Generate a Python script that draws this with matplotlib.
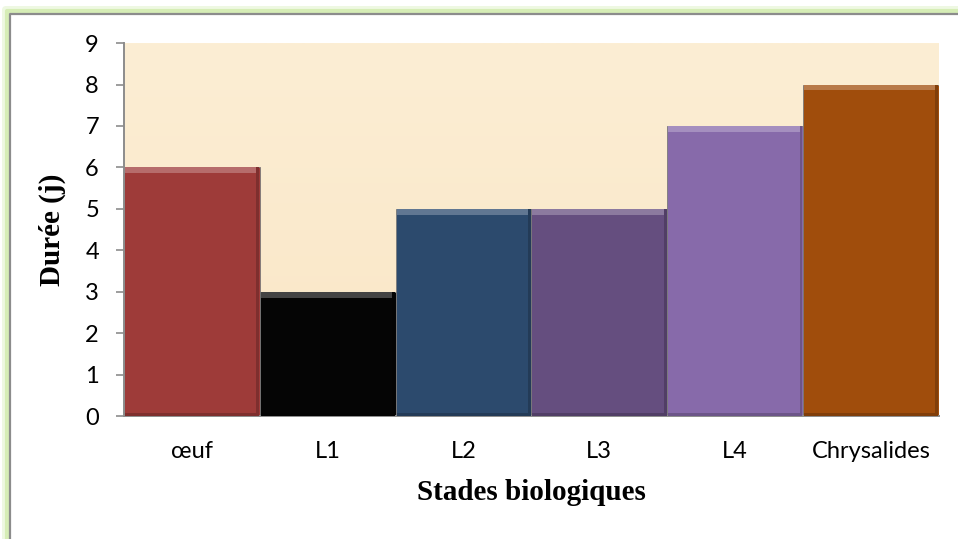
import numpy as np
import matplotlib
matplotlib.use('Agg')
import matplotlib.pyplot as plt
from matplotlib.lines import Line2D

# durée de chaque stade (jours)
stades = ['œuf', 'L1', 'L2', 'L3', 'L4', 'Chrysalides']
durees = [6, 3, 5, 5, 7, 8]
couleurs = ['#9E3B39', '#050505', '#2C4A6D', '#654E7F', '#876AAA', '#A04D0C']
yticks = list(range(0, 10))

fig = plt.figure(figsize=(9.58, 5.39), dpi=100)
fig.patch.set_facecolor('white')

# cadre gris (gauche + haut) avec halo vert à l'extérieur
W, H = 958.0, 539.0
for off, lw, col in [(5, 5, '#EEF8E2'), (3, 3, '#D6EDB6')]:
    fig.lines.append(Line2D([(10 - off) / W, (10 - off) / W, 1.0],
                            [0.0, 1 - (14 - off) / H, 1 - (14 - off) / H],
                            transform=fig.transFigure, color=col, linewidth=lw, zorder=0))
fig.lines.append(Line2D([10 / W, 10 / W, 1.0], [0.0, 1 - 14 / H, 1 - 14 / H],
                        transform=fig.transFigure, color='#8C8C8C', linewidth=1.6, zorder=1))

ax = fig.add_axes([0.1294, 0.2282, 0.8506, 0.6918])
# fond dégradé beige
grad = np.linspace(0, 1, 256).reshape(-1, 1)
ax.imshow(grad, extent=[-0.5, len(stades) - 0.5, 0, 9], aspect='auto',
          cmap=matplotlib.colors.LinearSegmentedColormap.from_list('bg', ['#F9E6C6', '#FCEED4']),
          origin='lower', zorder=0)

x = np.arange(len(stades))
ax.bar(x, durees, width=1.0, color=couleurs, edgecolor='#7A7A7A', linewidth=0.6, zorder=2)
# effet biseauté : bande claire en haut, sombre en bas et à droite
for xi, v, c in zip(x, durees, couleurs):
    rgb = np.array(matplotlib.colors.to_rgb(c))
    light = rgb + (1 - rgb) * 0.25
    dark = rgb * 0.8
    ax.bar(xi, 0.14, bottom=v - 0.14, width=0.985, color=light, linewidth=0, zorder=3)
    ax.bar(xi, 0.08, bottom=0, width=0.985, color=dark, linewidth=0, zorder=3)
    ax.bar(xi + 0.485, v, width=0.02, color=dark, linewidth=0, zorder=3)

ax.set_xlim(-0.5, len(stades) - 0.5)
ax.set_ylim(0, 9)
ax.set_yticks(yticks)
ax.set_xticks(x)
ax.set_xticklabels(stades, family='Lato', fontsize=17)
ax.tick_params(axis='y', labelsize=17, length=6, width=1.2, color='#8C8C8C', pad=12)
ax.tick_params(axis='x', length=0, pad=18)
for lab in ax.get_yticklabels():
    lab.set_family('Lato')

for s in ['top', 'right']:
    ax.spines[s].set_visible(False)
for s in ['left', 'bottom']:
    ax.spines[s].set_color('#8C8C8C')
    ax.spines[s].set_linewidth(1.4)

ax.set_xlabel('Stades biologiques', family='Liberation Serif', fontweight='bold',
              fontsize=21, labelpad=12)
ax.set_ylabel('Durée (j)', family='Liberation Serif', fontweight='bold',
              fontsize=21, labelpad=14)

fig.savefig('out.png', dpi=100)
